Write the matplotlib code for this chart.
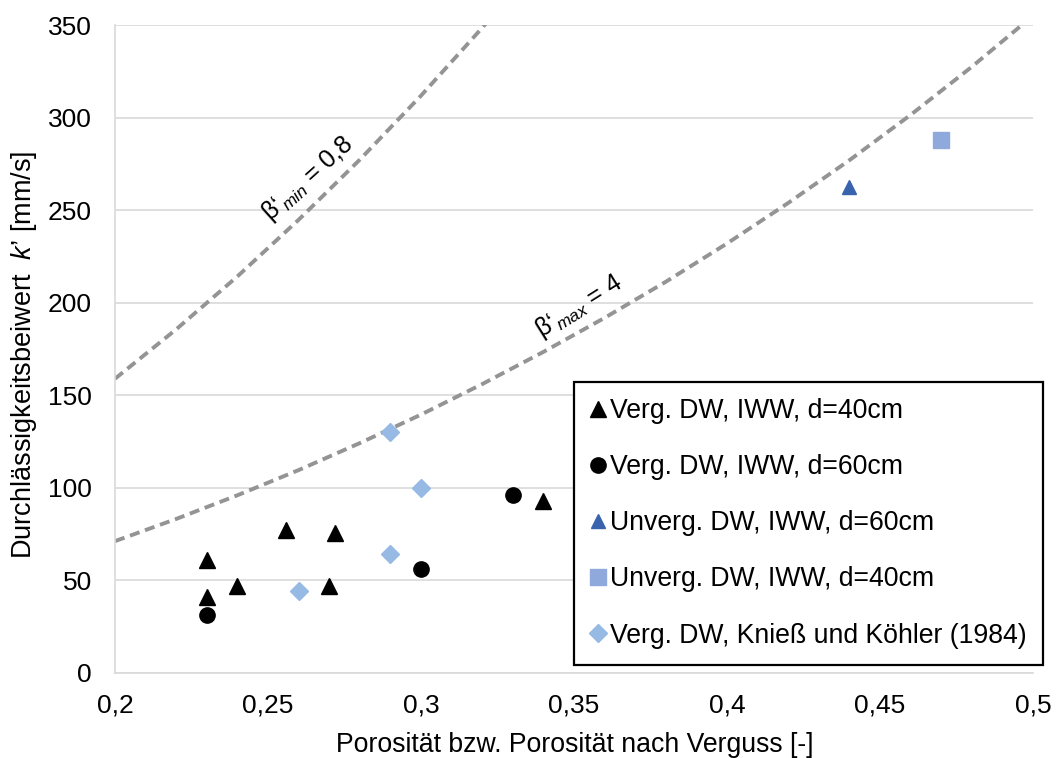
"""Permeability k' vs. porosity with beta' bounds."""

import matplotlib
matplotlib.use("Agg")
import matplotlib.pyplot as plt
from matplotlib.ticker import FuncFormatter

plt.rcParams["font.family"] = ["Liberation Sans", "DejaVu Sans"]
plt.rcParams["mathtext.fontset"] = "custom"
plt.rcParams["mathtext.rm"] = "Liberation Sans"
plt.rcParams["mathtext.it"] = "Liberation Sans:italic"

# measured points
verg40_x = [0.23, 0.23, 0.24, 0.256, 0.272, 0.27, 0.34]
verg40_y = [61, 41, 47, 77, 75.5, 47, 92.5]
verg60_x = [0.23, 0.30, 0.33]
verg60_y = [31, 56, 96]
unverg60_x = [0.44]
unverg60_y = [262.5]
unverg40_x = [0.47]
unverg40_y = [288]
kniess_x = [0.29, 0.30, 0.29, 0.26]
kniess_y = [130, 100, 64, 44]

# bound curves
curve_x = [0.20, 0.22, 0.24, 0.26, 0.28, 0.30, 0.32, 0.34, 0.36, 0.38,
           0.40, 0.42, 0.44, 0.46, 0.48, 0.50]
beta_min_y = [158.8, 185.5, 214.1, 244.7, 277.2, 311.8, 348.5, 387.4, 428.7, 472.3,
              518.5, 567.4, 619.2, 674.0, 732.2, 793.8]
beta_max_y = [71.0, 83.0, 95.8, 109.4, 124.0, 139.4, 155.9, 173.3, 191.7, 211.2,
              231.9, 253.8, 276.9, 301.4, 327.4, 355.0]

GRID = "#D9D9D9"
CURVE = "#949494"

fig = plt.figure(figsize=(10.57, 7.58), dpi=100)
ax = fig.add_axes([115 / 1057, 1 - 672.5 / 758, 918 / 1057, 647.5 / 758])

dash = (0, (2.6, 1.5))
ax.plot(curve_x, beta_min_y, color=CURVE, lw=2.8, linestyle=dash, zorder=2)
ax.plot(curve_x, beta_max_y, color=CURVE, lw=2.8, linestyle=dash, zorder=2)

ax.plot(verg40_x, verg40_y, "^", color="black", ms=11, ls="none",
        label="Verg. DW, IWW, d=40cm", zorder=3)
ax.plot(verg60_x, verg60_y, "o", color="black", ms=11, ls="none",
        label="Verg. DW, IWW, d=60cm", zorder=3)
ax.plot(unverg60_x, unverg60_y, "^", color="#3A63AE", ms=10, ls="none",
        label="Unverg. DW, IWW, d=60cm", zorder=3)
ax.plot(unverg40_x, unverg40_y, "s", color="#8FA9DC", ms=12, ls="none",
        label="Unverg. DW, IWW, d=40cm", zorder=3)
ax.plot(kniess_x, kniess_y, "D", color="#97BAE4", ms=9.5, ls="none",
        label="Verg. DW, Knieß und Köhler (1984)", zorder=3)

ax.text(0.263, 267, "β‘$_{\\mathit{min}}$ = 0,8", rotation=42, fontsize=18,
        ha="center", va="center", rotation_mode="anchor")
ax.text(0.3515, 198, "β‘$_{\\mathit{max}}$ = 4", rotation=32, fontsize=18,
        ha="center", va="center", rotation_mode="anchor")

ax.set_xlim(0.2, 0.5)
ax.set_ylim(0, 350)
ax.set_xticks([0.2, 0.25, 0.3, 0.35, 0.4, 0.45, 0.5])
ax.set_yticks(range(0, 351, 50))
ax.xaxis.set_major_formatter(FuncFormatter(lambda v, p: f"{v:g}".replace(".", ",")))
ax.tick_params(length=0, labelsize=19)
ax.tick_params(axis="y", pad=16.5)
ax.tick_params(axis="x", pad=15)
ax.grid(axis="y", color=GRID, lw=1.2)
ax.set_axisbelow(True)
for side in ["top", "right"]:
    ax.spines[side].set_visible(False)
for side in ["left", "bottom"]:
    ax.spines[side].set_color(GRID)
    ax.spines[side].set_linewidth(1.2)

fig.text(24 / 1057, 1 - 355 / 758, "Durchlässigkeitsbeiwert  $\\mathit{k}$’ [mm/s]",
         rotation=90, ha="center", va="center", fontsize=19.5)
fig.text(575 / 1057, 1 - 745 / 758, "Porosität bzw. Porosität nach Verguss [-]",
         ha="center", va="center", fontsize=19.2)

leg = ax.legend(loc="upper right", bbox_to_anchor=(1043 / 1057, 1 - 382 / 758),
                bbox_transform=fig.transFigure, fontsize=19.2, frameon=True,
                fancybox=False, handlelength=0.6, handletextpad=0.15,
                labelspacing=1.13, borderpad=0.6, borderaxespad=0)
leg.get_frame().set_edgecolor("black")
leg.get_frame().set_linewidth(1.6)
leg.get_frame().set_alpha(1)

fig.savefig("out.png", dpi=100)
